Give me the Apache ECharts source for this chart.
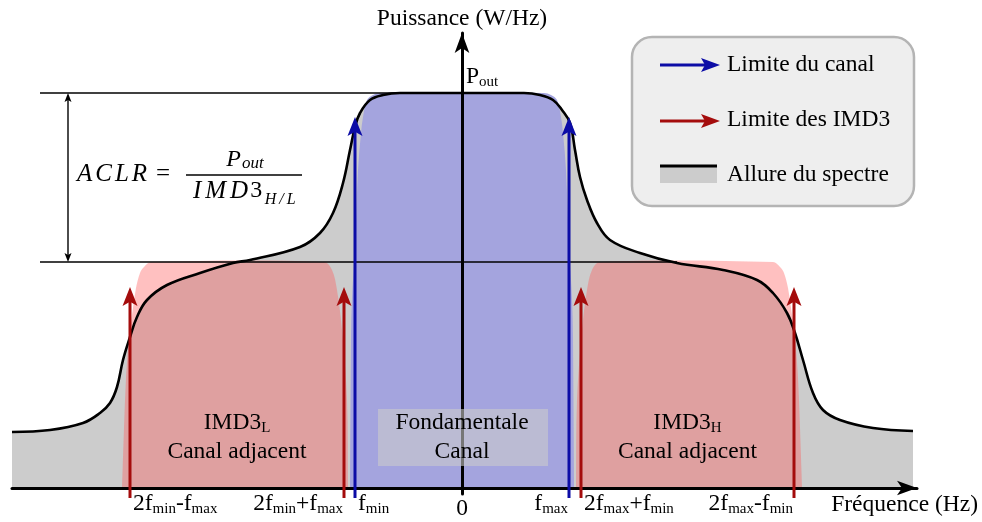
<!DOCTYPE html>
<html>
<head>
<meta charset="utf-8">
<title>ACLR</title>
<script src="https://cdn.jsdelivr.net/npm/echarts@6/dist/echarts.min.js"></script>
<style>
html,body{margin:0;padding:0;background:#ffffff;}
#chart{width:982px;height:522px;}
</style>
</head>
<body>
<div id="chart"></div>
<script>
// ---------- data (arbitrary units: frequency offset from the carrier, power above the floor) ----------
const spectrumFreq  = [-450,-412,-379,-362,-352,-345,-339,-332,-325,-315,-295,-262,-229,-212,-162,-142,-129,-119,-112,-107,-102,-92,-79,-62,0,62,78,91,100,108,113,118,125,135,148,178,215,261,295,311,325,333,341,351,361,378,411,451];
const spectrumPower = [56,58,65,75,85,101,128,151,171,188,203,215,225,228,241,255,275,305,338,361,375,388,393,395,395,395,393,388,378,365,338,311,288,265,248,235,225,218,208,195,175,155,128,95,78,68,60,57];

const channelShapeFreq  = [-112,-111,-110,-107,-104,-101,-99,-95,-89,-82,82,89,95,99,101,104,107,110,111,112];
const channelShapePower = [0,150,190,240,318,355,371,388,393,395,395,393,388,371,355,318,240,190,150,0];

// upper IMD3 band (IMD3_H); the lower band (IMD3_L) is its mirror image
const imdShapeFreq  = [114,115,120,125,130,138,311,318,322,326,329,333,336,338,340];
const imdShapePower = [0,88,158,198,218,226,226,221,215,200,180,150,110,60,0];

const channelLimits = [-107, 107];            // f_min, f_max
const imdLimits = [-332, -118, 119, 332];     // 2fmin-fmax, 2fmin+fmax, 2fmax+fmin, 2fmax-fmin
const limitArrowBase = -10;
const channelArrowTop = 371;
const imdArrowTop = 201;
const pOutLevel = 395;
const imdLevel = 226;
const aclrLineStart = -422;
const aclrArrowFreq = -394;

const tickValues = [-332, -118, -107, 0, 107, 119, 332];
const tickLabels = ['2f{s|min}-f{s|max}', '2f{s|min}+f{s|max}', 'f{s|min}', '0', 'f{s|max}', '2f{s|max}+f{s|min}', '2f{s|max}-f{s|min}'];
const regionTitles = ['IMD3{s|L}', 'Fondamentale', 'IMD3{s|H}'];
const regionSubtitles = ['Canal adjacent', 'Canal', 'Canal adjacent'];
const legendLabels = ['Limite du canal', 'Limite des IMD3', 'Allure du spectre'];

// ---------- styling ----------
const FONT = 'Liberation Serif';
const BLUE = '#0c0ca6';
const RED = '#a40c0c';
const FS = 23.5;
const subStyle = {fontSize: 15, fontFamily: FONT, fill: '#000', padding: [11, 0, 0, 0]};

function smoothPath(pts) {
  const n = pts.length;
  const tang = pts.map((p, i) => {
    const a = pts[Math.max(0, i - 1)], b = pts[Math.min(n - 1, i + 1)];
    const dx = b[0] - a[0], dy = b[1] - a[1];
    const l = Math.hypot(dx, dy) || 1;
    return [dx / l, dy / l];
  });
  let d = 'M' + pts[0][0] + ' ' + pts[0][1];
  for (let i = 0; i < n - 1; i++) {
    const p = pts[i], q = pts[i + 1];
    const len = Math.hypot(q[0] - p[0], q[1] - p[1]) / 3;
    d += ' C' + (p[0] + tang[i][0] * len) + ' ' + (p[1] + tang[i][1] * len) + ' ' +
         (q[0] - tang[i + 1][0] * len) + ' ' + (q[1] - tang[i + 1][1] * len) + ' ' + q[0] + ' ' + q[1];
  }
  return d + ' Z';
}

function vArrowHead(x, tipY, dir, color, hl, hw) {
  // dir = +1 : pointing up (tip above), -1 : pointing down
  return {type: 'polygon', shape: {points: [
    [x, tipY], [x + hw / 2, tipY + dir * hl], [x, tipY + dir * hl * 0.78], [x - hw / 2, tipY + dir * hl]
  ]}, style: {fill: color}};
}

const regionCentres = [
  (imdLimits[0] + imdLimits[1]) / 2,
  (channelLimits[0] + channelLimits[1]) / 2,
  (imdLimits[2] + imdLimits[3]) / 2
];

const chart = echarts.init(document.getElementById('chart'), null, {renderer: 'canvas'});

const spectrumData = spectrumFreq.map((f, i) => [f, spectrumPower[i]]);

const option = {
  animation: false,
  backgroundColor: '#ffffff',
  textStyle: {fontFamily: FONT},
  grid: {left: 12, right: 65, top: 33, bottom: 28, containLabel: false, outerBoundsMode: 'none', show: false},
  xAxis: {
    type: 'value', min: -450, max: 455, z: 6,
    name: 'Fréquence (Hz)', nameLocation: 'end', nameGap: 61, nameMoveOverlap: false,
    nameTextStyle: {fontFamily: FONT, fontSize: FS, color: '#000', align: 'right', verticalAlign: 'top', lineHeight: 34},
    axisLine: {show: true, onZero: true, symbol: ['none', 'arrow'], symbolSize: [11, 20], lineStyle: {color: '#000', width: 3}},
    axisTick: {show: false}, axisLabel: {show: false}, splitLine: {show: false}
  },
  yAxis: {
    type: 'value', min: -6, max: 455, z: 6,
    name: 'Puissance (W/Hz)', nameLocation: 'end', nameGap: 14, nameMoveOverlap: false,
    nameTextStyle: {fontFamily: FONT, fontSize: FS, color: '#000', align: 'center', verticalAlign: 'middle'},
    axisLine: {show: true, onZero: true, symbol: ['none', 'arrow'], symbolSize: [11, 20], lineStyle: {color: '#000', width: 3}},
    axisTick: {show: false}, axisLabel: {show: false}, splitLine: {show: false}
  },
  series: [
    { // grey area under the spectrum
      type: 'line', name: 'Allure du spectre (surface)', data: spectrumData, smooth: 0.4,
      symbol: 'none', showSymbol: false, silent: true, z: 1,
      lineStyle: {opacity: 0}, areaStyle: {color: '#cccccc', opacity: 1}
    },
    { // fundamental channel
      type: 'custom', name: 'Fondamentale', z: 2, silent: true, clip: false, data: [[0]],
      renderItem: (params, api) => ({
        type: 'path',
        shape: {pathData: smoothPath(channelShapeFreq.map((f, i) => api.coord([f, channelShapePower[i]])))},
        style: {fill: '#a4a4de'}
      })
    },
    { // IMD3 bands
      type: 'custom', name: 'IMD3', z: 3, silent: true, clip: false, data: [[-1], [1]],
      renderItem: (params, api) => {
        const s = api.value(0);
        const pts = imdShapeFreq.map((f, i) => api.coord([s * f, imdShapePower[i]]));
        return {type: 'path', shape: {pathData: smoothPath(pts)}, style: {fill: 'rgba(255,86,86,0.373)'}};
      }
    },
    { // spectrum outline
      type: 'line', name: 'Allure du spectre', data: spectrumData, smooth: 0.4,
      symbol: 'none', showSymbol: false, silent: true, z: 4,
      lineStyle: {color: '#000', width: 2.6}
    },
    { // ACLR reference lines and double arrow, P_out label
      type: 'custom', name: 'ACLR', z: 5, silent: true, clip: false, data: [[0]],
      renderItem: (params, api) => {
        const t0 = api.coord([aclrLineStart, pOutLevel]), t1 = api.coord([0, pOutLevel]);
        const b0 = api.coord([aclrLineStart, imdLevel]), b1 = api.coord([215, imdLevel]);
        const aT = api.coord([aclrArrowFreq, pOutLevel]), aB = api.coord([aclrArrowFreq, imdLevel]);
        const pl = api.coord([4, pOutLevel + 16]);
        return {type: 'group', children: [
          {type: 'line', shape: {x1: t0[0], y1: t0[1], x2: t1[0], y2: t1[1]}, style: {stroke: '#000', lineWidth: 1.4}},
          {type: 'line', shape: {x1: b0[0], y1: b0[1], x2: b1[0], y2: b1[1]}, style: {stroke: '#000', lineWidth: 1.4}},
          {type: 'line', shape: {x1: aT[0], y1: aT[1] + 4, x2: aB[0], y2: aB[1] - 4}, style: {stroke: '#000', lineWidth: 1.4}},
          vArrowHead(aT[0], aT[1], 1, '#000', 9, 7),
          vArrowHead(aB[0], aB[1], -1, '#000', 9, 7),
          {type: 'text', x: pl[0], y: pl[1], style: {text: 'P{s|out}', fontFamily: FONT, fontSize: FS, fill: '#000',
            align: 'left', verticalAlign: 'middle', rich: {s: subStyle}}}
        ]};
      }
    },
    { // channel / IMD3 limit arrows
      type: 'custom', name: 'Limites', z: 7, silent: true, clip: false,
      data: channelLimits.map(f => [f, limitArrowBase, channelArrowTop, 0])
        .concat(imdLimits.map(f => [f, limitArrowBase, imdArrowTop, 1])),
      renderItem: (params, api) => {
        const f = api.value(0);
        const a = api.coord([f, api.value(1)]), b = api.coord([f, api.value(2)]);
        const color = api.value(3) === 0 ? BLUE : RED;
        return {type: 'group', children: [
          {type: 'line', shape: {x1: a[0], y1: a[1], x2: b[0], y2: b[1] + 14}, style: {stroke: color, lineWidth: 3}},
          vArrowHead(b[0], b[1], 1, color, 19, 15)
        ]};
      }
    },
    { // translucent box behind the fundamental label
      type: 'custom', name: 'Boite', z: 8, silent: true, clip: false, data: [[0]],
      renderItem: (params, api) => {
        const p0 = api.coord([-84, 79]), p1 = api.coord([86, 22]);
        return {type: 'rect', shape: {x: p0[0], y: p0[1], width: p1[0] - p0[0], height: p1[1] - p0[1]},
          style: {fill: 'rgba(203,203,203,0.58)'}};
      }
    },
    { // region labels
      type: 'custom', name: 'Regions', z: 9, silent: true, clip: false,
      data: regionCentres.map((c, i) => [c, i]),
      renderItem: (params, api) => {
        const i = params.dataIndex;
        const p1 = api.coord([api.value(0), 65]);
        const p2 = api.coord([api.value(0), 36]);
        return {type: 'group', children: [
          {type: 'text', x: p1[0], y: p1[1], style: {text: regionTitles[i], fontFamily: FONT, fontSize: FS, fill: '#000',
            align: 'center', verticalAlign: 'middle', rich: {s: subStyle}}},
          {type: 'text', x: p2[0], y: p2[1], style: {text: regionSubtitles[i], fontFamily: FONT, fontSize: FS, fill: '#000',
            align: 'center', verticalAlign: 'middle'}}
        ]};
      }
    },
    { // frequency tick labels
      type: 'custom', name: 'Ticks', z: 9, silent: true, clip: false,
      data: tickValues.map((v, i) => [v, i]),
      renderItem: (params, api) => {
        const i = params.dataIndex;
        const align = ['left', 'right', 'left', 'center', 'right', 'left', 'right'][i];
        const dx = {left: 3, right: -1, center: 0}[align];
        const p = api.coord([api.value(0), 0]);
        return {type: 'text', x: p[0] + dx, y: p[1] + (tickLabels[i] === '0' ? 21 : 16),
          style: {text: tickLabels[i], fontFamily: FONT, fontSize: FS, fill: '#000', align: align, verticalAlign: 'middle',
            rich: {s: subStyle}}};
      }
    }
  ],
  graphic: {elements: [
    // legend box
    {type: 'rect', shape: {x: 632, y: 37, width: 282, height: 169, r: 20}, style: {fill: '#eeeeee', stroke: '#b4b4b4', lineWidth: 2.5}},
    {type: 'line', shape: {x1: 660, y1: 65, x2: 706, y2: 65}, style: {stroke: BLUE, lineWidth: 3}},
    {type: 'polygon', shape: {points: [[720, 65], [701, 58], [705, 65], [701, 72]]}, style: {fill: BLUE}},
    {type: 'line', shape: {x1: 660, y1: 121, x2: 706, y2: 121}, style: {stroke: RED, lineWidth: 3}},
    {type: 'polygon', shape: {points: [[720, 121], [701, 114], [705, 121], [701, 128]]}, style: {fill: RED}},
    {type: 'rect', shape: {x: 660, y: 167, width: 57, height: 16}, style: {fill: '#cccccc'}},
    {type: 'line', shape: {x1: 660, y1: 166, x2: 717, y2: 166}, style: {stroke: '#000', lineWidth: 3}},
    {type: 'text', x: 727, y: 65, style: {text: legendLabels[0], fontFamily: FONT, fontSize: FS, fill: '#000', align: 'left', verticalAlign: 'middle'}},
    {type: 'text', x: 727, y: 120, style: {text: legendLabels[1], fontFamily: FONT, fontSize: FS, fill: '#000', align: 'left', verticalAlign: 'middle'}},
    {type: 'text', x: 727, y: 175, style: {text: legendLabels[2], fontFamily: FONT, fontSize: FS, fill: '#000', align: 'left', verticalAlign: 'middle'}},
    // ACLR formula
    {type: 'text', x: 77, y: 174, style: {text: '{a|A}{a|C}{a|L}{a|R}{e|=}', align: 'left', verticalAlign: 'middle', fill: '#000',
      fontFamily: FONT, fontSize: 25,
      rich: {a: {fontSize: 25, fontFamily: FONT, fontStyle: 'italic', fill: '#000', padding: [0, 3, 0, 0]},
             e: {fontSize: 25, fontFamily: FONT, fill: '#000', padding: [0, 0, 0, 6]}}}},
    {type: 'line', shape: {x1: 186, y1: 175, x2: 302, y2: 175}, style: {stroke: '#000', lineWidth: 1.4}},
    {type: 'text', x: 245, y: 160, style: {text: '{p|P}{o|out}', align: 'center', verticalAlign: 'middle', fill: '#000',
      fontFamily: FONT, fontSize: 24,
      rich: {p: {fontSize: 24, fontFamily: FONT, fontStyle: 'italic', fill: '#000', padding: [0, 1, 0, 0]},
             o: {fontSize: 17, fontFamily: FONT, fontStyle: 'italic', fill: '#000', padding: [8, 0, 0, 0]}}}},
    {type: 'text', x: 244, y: 191, style: {text: '{i|I}{i|M}{i|D}{n|3}{s|H}{s|/}{s|L}', align: 'center', verticalAlign: 'middle', fill: '#000',
      fontFamily: FONT, fontSize: 25,
      rich: {i: {fontSize: 25, fontFamily: FONT, fontStyle: 'italic', fill: '#000', padding: [0, 2, 0, 2]},
             n: {fontSize: 24, fontFamily: FONT, fill: '#000', padding: [0, 1, 0, 0]},
             s: {fontSize: 16, fontFamily: FONT, fontStyle: 'italic', fill: '#000', padding: [18, 1.5, 0, 1.5]}}}}
  ]}
};

chart.setOption(option);
</script>
</body>
</html>
